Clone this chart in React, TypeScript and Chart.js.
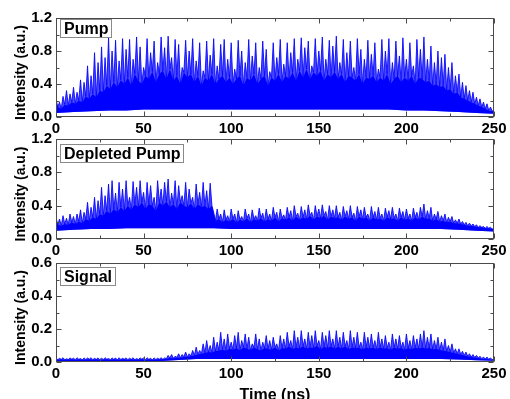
import React, { useEffect, useRef } from "react";
import { Chart, registerables } from "chart.js";
Chart.register(...registerables);

// ---- data ----
const PEAK_STEP = 2; // ns between spike tops (tops at even ns, valleys at odd ns)
const ENV_STEP = 10; // ns between lower-edge samples
const X_MIN = 0;
const X_MAX = 250;

// Pump: spike tops at t = 0, 2, ..., 250
const pumpPeaks = [
  0.22, 0.18, 0.25, 0.32, 0.28, 0.36, 0.30, 0.45, 0.42, 0.62,
  0.50, 0.78, 0.66, 0.85, 0.72, 0.96, 0.80, 0.93, 0.68, 0.95,
  0.82, 0.94, 0.70, 0.97, 0.85, 0.60, 0.95, 0.78, 0.92, 0.66,
  0.97, 0.84, 0.98, 0.72, 0.94, 0.88, 0.60, 0.93, 0.80, 0.95,
  0.68, 0.90, 0.56, 0.92, 0.75, 0.95, 0.62, 0.88, 0.94, 0.70,
  0.90, 0.58, 0.93, 0.80, 0.66, 0.94, 0.74, 0.90, 0.60, 0.92,
  0.82, 0.55, 0.90, 0.72, 0.94, 0.64, 0.90, 0.78, 0.95, 0.70,
  0.96, 0.84, 0.92, 0.62, 0.95, 0.80, 0.97, 0.70, 0.93, 0.86,
  0.98, 0.66, 0.94, 0.78, 0.92, 0.60, 0.95, 0.82, 0.70, 0.93,
  0.76, 0.90, 0.58, 0.94, 0.80, 0.95, 0.66, 0.92, 0.74, 0.96,
  0.70, 0.90, 0.62, 0.94, 0.82, 0.97, 0.70, 0.86, 0.66, 0.80,
  0.72, 0.76, 0.60, 0.66, 0.50, 0.52, 0.42, 0.38, 0.32, 0.30,
  0.24, 0.22, 0.18, 0.16, 0.12, 0.09,
];
// Pump: valleys between spikes at t = 1, 3, ..., 249
const pumpValleys = [
  0.12, 0.10, 0.15, 0.14, 0.18, 0.16, 0.20, 0.18, 0.25, 0.22,
  0.28, 0.24, 0.32, 0.30, 0.38, 0.34, 0.42, 0.36, 0.45, 0.40,
  0.48, 0.38, 0.52, 0.44, 0.40, 0.50, 0.46, 0.55, 0.42, 0.52,
  0.56, 0.46, 0.58, 0.44, 0.50, 0.40, 0.54, 0.48, 0.52, 0.42,
  0.50, 0.38, 0.48, 0.44, 0.52, 0.40, 0.46, 0.50, 0.42, 0.48,
  0.40, 0.46, 0.50, 0.38, 0.48, 0.44, 0.52, 0.40, 0.46, 0.50,
  0.38, 0.48, 0.44, 0.52, 0.42, 0.50, 0.46, 0.54, 0.44, 0.56,
  0.48, 0.58, 0.46, 0.54, 0.50, 0.56, 0.44, 0.52, 0.48, 0.55,
  0.46, 0.52, 0.42, 0.50, 0.48, 0.44, 0.52, 0.40, 0.48, 0.46,
  0.50, 0.42, 0.48, 0.44, 0.52, 0.40, 0.46, 0.50, 0.42, 0.48,
  0.44, 0.50, 0.40, 0.48, 0.46, 0.42, 0.44, 0.38, 0.40, 0.36,
  0.38, 0.32, 0.34, 0.28, 0.30, 0.24, 0.22, 0.20, 0.18, 0.16,
  0.14, 0.12, 0.10, 0.08, 0.07,
];
// Pump: lower edge of the trace, t = 0, 10, ..., 250
const pumpLow = [
  0.05, 0.06, 0.07, 0.08, 0.08, 0.09, 0.09, 0.09, 0.09, 0.09, 0.09, 0.09, 0.09,
  0.09, 0.09, 0.09, 0.09, 0.09, 0.09, 0.09, 0.08, 0.08, 0.07, 0.06, 0.05, 0.04,
];

// Depleted pump
const deplPeaks = [
  0.26, 0.24, 0.28, 0.25, 0.30, 0.27, 0.30, 0.35, 0.32, 0.44,
  0.38, 0.50, 0.46, 0.62, 0.52, 0.66, 0.70, 0.55, 0.68, 0.60,
  0.70, 0.50, 0.69, 0.62, 0.70, 0.56, 0.68, 0.64, 0.50, 0.70,
  0.60, 0.68, 0.72, 0.55, 0.70, 0.64, 0.52, 0.68, 0.60, 0.50,
  0.66, 0.56, 0.68, 0.58, 0.67, 0.32, 0.36, 0.30, 0.35, 0.28,
  0.36, 0.30, 0.34, 0.27, 0.36, 0.30, 0.35, 0.28, 0.37, 0.31,
  0.36, 0.30, 0.38, 0.32, 0.36, 0.29, 0.38, 0.34, 0.40, 0.31,
  0.39, 0.35, 0.41, 0.32, 0.40, 0.36, 0.41, 0.33, 0.40, 0.35,
  0.40, 0.32, 0.39, 0.34, 0.40, 0.31, 0.39, 0.35, 0.38, 0.30,
  0.39, 0.33, 0.38, 0.30, 0.37, 0.34, 0.38, 0.30, 0.37, 0.33,
  0.36, 0.30, 0.37, 0.32, 0.38, 0.42, 0.34, 0.38, 0.30, 0.33,
  0.28, 0.30, 0.26, 0.27, 0.23, 0.24, 0.21, 0.20, 0.19, 0.18,
  0.17, 0.16, 0.15, 0.15, 0.14, 0.13,
];
const deplValleys = [
  0.17, 0.16, 0.18, 0.17, 0.20, 0.18, 0.21, 0.19, 0.24, 0.22,
  0.26, 0.24, 0.30, 0.28, 0.34, 0.30, 0.36, 0.32, 0.38, 0.34,
  0.40, 0.35, 0.42, 0.38, 0.44, 0.36, 0.42, 0.40, 0.34, 0.44,
  0.40, 0.45, 0.38, 0.42, 0.36, 0.44, 0.40, 0.38, 0.43, 0.36,
  0.42, 0.38, 0.40, 0.36, 0.40, 0.22, 0.24, 0.20, 0.23, 0.21,
  0.24, 0.20, 0.23, 0.21, 0.25, 0.20, 0.24, 0.22, 0.25, 0.21,
  0.24, 0.22, 0.26, 0.21, 0.25, 0.23, 0.26, 0.22, 0.27, 0.23,
  0.26, 0.24, 0.28, 0.23, 0.27, 0.25, 0.28, 0.23, 0.27, 0.25,
  0.26, 0.23, 0.27, 0.24, 0.26, 0.22, 0.27, 0.24, 0.26, 0.22,
  0.26, 0.23, 0.25, 0.22, 0.26, 0.24, 0.25, 0.22, 0.26, 0.23,
  0.25, 0.22, 0.26, 0.23, 0.27, 0.24, 0.25, 0.22, 0.24, 0.21,
  0.22, 0.20, 0.21, 0.19, 0.19, 0.18, 0.17, 0.16, 0.16, 0.15,
  0.14, 0.14, 0.13, 0.13, 0.12,
];
const deplLow = [
  0.10, 0.11, 0.12, 0.12, 0.13, 0.13, 0.13, 0.13, 0.13, 0.13, 0.12, 0.12, 0.12,
  0.12, 0.12, 0.12, 0.12, 0.12, 0.12, 0.12, 0.12, 0.12, 0.12, 0.11, 0.10, 0.09,
];

// Signal
const sigPeaks = [
  0.025, 0.022, 0.026, 0.020, 0.025, 0.023, 0.026, 0.021, 0.025, 0.024,
  0.026, 0.022, 0.025, 0.023, 0.026, 0.021, 0.025, 0.024, 0.026, 0.022,
  0.025, 0.023, 0.026, 0.021, 0.025, 0.024, 0.026, 0.022, 0.025, 0.023,
  0.026, 0.025, 0.040, 0.045, 0.035, 0.050, 0.045, 0.060, 0.050, 0.070,
  0.09, 0.07, 0.11, 0.13, 0.10, 0.15, 0.12, 0.18, 0.14, 0.17,
  0.12, 0.16, 0.18, 0.13, 0.17, 0.15, 0.11, 0.17, 0.14, 0.12,
  0.16, 0.13, 0.15, 0.11, 0.16, 0.14, 0.18, 0.13, 0.19, 0.15,
  0.19, 0.14, 0.18, 0.16, 0.19, 0.13, 0.18, 0.16, 0.19, 0.14,
  0.19, 0.15, 0.18, 0.13, 0.19, 0.15, 0.18, 0.12, 0.18, 0.15,
  0.17, 0.13, 0.18, 0.14, 0.16, 0.12, 0.17, 0.14, 0.16, 0.12,
  0.17, 0.13, 0.16, 0.14, 0.17, 0.19, 0.15, 0.17, 0.13, 0.15,
  0.12, 0.14, 0.10, 0.11, 0.08, 0.08, 0.065, 0.06, 0.05, 0.045,
  0.04, 0.035, 0.03, 0.03, 0.025, 0.02,
];
const sigValleys = [
  0.014, 0.016, 0.013, 0.015, 0.017, 0.014, 0.016, 0.013, 0.015, 0.017,
  0.014, 0.016, 0.013, 0.015, 0.017, 0.014, 0.016, 0.013, 0.015, 0.017,
  0.014, 0.016, 0.013, 0.015, 0.017, 0.014, 0.016, 0.013, 0.015, 0.017,
  0.016, 0.020, 0.025, 0.022, 0.028, 0.026, 0.032, 0.030, 0.036, 0.040,
  0.045, 0.050, 0.055, 0.060, 0.058, 0.066, 0.070, 0.075, 0.068, 0.080,
  0.075, 0.085, 0.070, 0.090, 0.080, 0.072, 0.088, 0.078, 0.070, 0.085,
  0.080, 0.075, 0.090, 0.070, 0.085, 0.080, 0.095, 0.078, 0.090, 0.082,
  0.095, 0.080, 0.090, 0.085, 0.098, 0.078, 0.092, 0.085, 0.096, 0.080,
  0.092, 0.082, 0.095, 0.078, 0.090, 0.085, 0.088, 0.076, 0.090, 0.082,
  0.088, 0.078, 0.090, 0.080, 0.085, 0.075, 0.088, 0.080, 0.085, 0.075,
  0.085, 0.078, 0.088, 0.080, 0.090, 0.082, 0.085, 0.078, 0.080, 0.072,
  0.070, 0.065, 0.060, 0.055, 0.050, 0.045, 0.040, 0.035, 0.030, 0.028,
  0.024, 0.020, 0.018, 0.016, 0.014,
];
const sigLow = [
  0.006, 0.006, 0.006, 0.006, 0.006, 0.006, 0.006, 0.012, 0.018, 0.018, 0.018,
  0.018, 0.018, 0.018, 0.018, 0.018, 0.018, 0.018, 0.018, 0.018, 0.018, 0.018,
  0.018, 0.015, 0.010, 0.008,
];

const panelTitles = ["Pump", "Depleted Pump", "Signal"];
const yMaxes = [1.2, 1.2, 0.6];
const yTickSteps = [0.2, 0.2, 0.1];
const yLabelSteps = [0.4, 0.4, 0.2];
const X_TICK_STEP = 25;
const X_LABEL_STEP = 50;
const Y_TITLE = "Intensity (a.u.)";
const X_TITLE = "Time (ns)";

// ---- layout ----
const W = 510;
const FONT = '"Liberation Sans", Arial, Helvetica, sans-serif';
const BLUE = "#0000ff";
const FRAME = "#4a4a4a";

type Def = {
  title: string;
  peaks: number[];
  valleys: number[];
  low: number[];
  yMax: number;
  yStep: number;
  yLabelStep: number;
  top: number;
  height: number;
  axisH: number;
  boxDy: number;
  showXTitle: boolean;
};

const defs: Def[] = [
  { title: panelTitles[0], peaks: pumpPeaks, valleys: pumpValleys, low: pumpLow, yMax: yMaxes[0], yStep: yTickSteps[0], yLabelStep: yLabelSteps[0], top: 0, height: 140, axisH: 23, boxDy: 1, showXTitle: false },
  { title: panelTitles[1], peaks: deplPeaks, valleys: deplValleys, low: deplLow, yMax: yMaxes[1], yStep: yTickSteps[1], yLabelStep: yLabelSteps[1], top: 121, height: 140, axisH: 22, boxDy: 5, showXTitle: false },
  { title: panelTitles[2], peaks: sigPeaks, valleys: sigValleys, low: sigLow, yMax: yMaxes[2], yStep: yTickSteps[2], yLabelStep: yLabelSteps[2], top: 245, height: 154, axisH: 37, boxDy: 4, showXTitle: true },
];

function buildDatasets(def: Def) {
  const envLow = def.low.map((v, i) => ({ x: i * ENV_STEP, y: v }));
  const valleyLine = [
    { x: 0, y: def.peaks[0] },
    ...def.valleys.map((v, i) => ({ x: i * PEAK_STEP + PEAK_STEP / 2, y: v })),
    { x: X_MAX, y: def.peaks[def.peaks.length - 1] },
  ];
  const trace: { x: number; y: number }[] = [];
  def.peaks.forEach((p, i) => {
    const t = i * PEAK_STEP;
    trace.push({ x: t, y: p });
    if (i < def.valleys.length) trace.push({ x: t + PEAK_STEP / 2, y: def.valleys[i] });
  });
  return [
    { data: envLow, borderWidth: 0, borderColor: "rgba(0,0,0,0)", pointRadius: 0, fill: false, order: 3 },
    { data: valleyLine, borderWidth: 0, borderColor: "rgba(0,0,0,0)", backgroundColor: BLUE, pointRadius: 0, fill: 0, tension: 0, order: 2 },
    { data: trace, borderWidth: 1, borderColor: "rgba(0,0,255,0.85)", backgroundColor: "rgba(0,0,255,0.72)", pointRadius: 0, fill: 0, tension: 0, order: 1 },
  ];
}

function makeDecor(def: Def) {
  return {
    id: "decor",
    afterDatasetsDraw(chart: any) {
      const { ctx, chartArea } = chart;
      const { left, right, top, bottom } = chartArea;
      const xs = chart.scales.x;
      const ys = chart.scales.y;
      ctx.save();
      ctx.strokeStyle = FRAME;
      ctx.lineWidth = 1;
      const L = Math.round(left) + 0.5;
      const R = Math.round(right) - 0.5;
      const T = Math.round(top) + 0.5;
      const B = Math.round(bottom) - 0.5;
      ctx.strokeRect(L, T, R - L, B - T);
      ctx.beginPath();
      for (const t of xs.ticks) {
        const px = Math.round(xs.getPixelForValue(t.value)) + 0.5;
        const len = t.label ? 5 : 3;
        ctx.moveTo(px, B);
        ctx.lineTo(px, B - len);
        ctx.moveTo(px, T);
        ctx.lineTo(px, T + len);
      }
      for (const t of ys.ticks) {
        const py = Math.round(ys.getPixelForValue(t.value)) + 0.5;
        const len = t.label ? 5 : 3;
        ctx.moveTo(L, py);
        ctx.lineTo(L + len, py);
        ctx.moveTo(R, py);
        ctx.lineTo(R - len, py);
      }
      ctx.stroke();

      // label box
      ctx.font = `bold 16px ${FONT}`;
      const tw = ctx.measureText(def.title).width;
      const bx = Math.round(left) + 4.5;
      const by = Math.round(top) + def.boxDy + 0.5;
      const bw = Math.round(tw + 7);
      const bh = 18;
      ctx.fillStyle = "#ffffff";
      ctx.fillRect(bx, by, bw, bh);
      ctx.strokeStyle = "#8a8a8a";
      ctx.strokeRect(bx, by, bw, bh);
      ctx.fillStyle = "#000";
      ctx.textBaseline = "middle";
      ctx.textAlign = "left";
      ctx.fillText(def.title, bx + 3.5, by + bh / 2 + 1);

      // y title
      ctx.save();
      ctx.font = `bold 14px ${FONT}`;
      ctx.translate(21, (top + bottom) / 2 + 5);
      ctx.rotate(-Math.PI / 2);
      ctx.textAlign = "center";
      ctx.textBaseline = "middle";
      ctx.fillText(Y_TITLE, 0, 0);
      ctx.restore();

      if (def.showXTitle) {
        ctx.font = `bold 16px ${FONT}`;
        ctx.textAlign = "center";
        ctx.textBaseline = "alphabetic";
        ctx.fillText(X_TITLE, (left + right) / 2, chart.height + 0.5);
      }
      ctx.restore();
    },
  };
}

function Panel({ def }: { def: Def }) {
  const ref = useRef<HTMLCanvasElement>(null);
  useEffect(() => {
    const chart = new Chart(ref.current as HTMLCanvasElement, {
      type: "line",
      data: { datasets: buildDatasets(def) as any },
      options: {
        animation: false,
        responsive: false,
        devicePixelRatio: 1,
        events: [],
        layout: { padding: { top: 18, right: 16, left: 0, bottom: 0 } },
        plugins: { legend: { display: false }, tooltip: { enabled: false } },
        scales: {
          x: {
            type: "linear",
            min: X_MIN,
            max: X_MAX,
            grid: { display: false, drawTicks: false },
            border: { display: false },
            ticks: {
              stepSize: X_TICK_STEP,
              autoSkip: false,
              maxRotation: 0,
              padding: 3,
              color: "#000",
              font: { size: 15, weight: "bold", family: FONT },
              callback: (v: any) => (Number(v) % X_LABEL_STEP === 0 ? String(v) : ""),
            },
            afterFit: (s: any) => {
              s.height = def.axisH;
            },
          },
          y: {
            type: "linear",
            min: 0,
            max: def.yMax,
            grid: { display: false, drawTicks: false },
            border: { display: false },
            ticks: {
              stepSize: def.yStep,
              autoSkip: false,
              padding: 4,
              color: "#000",
              font: { size: 15, weight: "bold", family: FONT },
              callback: (v: any) => {
                const r = Number(v) / def.yLabelStep;
                return Math.abs(r - Math.round(r)) < 1e-6 ? Number(v).toFixed(1) : "";
              },
            },
            afterFit: (s: any) => {
              s.width = 56;
            },
          },
        },
      } as any,
      plugins: [makeDecor(def)],
    });
    return () => chart.destroy();
  }, []);
  return (
    <canvas
      ref={ref}
      width={W}
      height={def.height}
      style={{ position: "absolute", left: 0, top: def.top, width: W, height: def.height }}
    />
  );
}

export default function App() {
  return (
    <div style={{ position: "absolute", left: 0, top: 0, width: W, height: 399, background: "#fff", overflow: "hidden" }}>
      {defs.map((d, i) => (
        <Panel key={i} def={d} />
      ))}
    </div>
  );
}
